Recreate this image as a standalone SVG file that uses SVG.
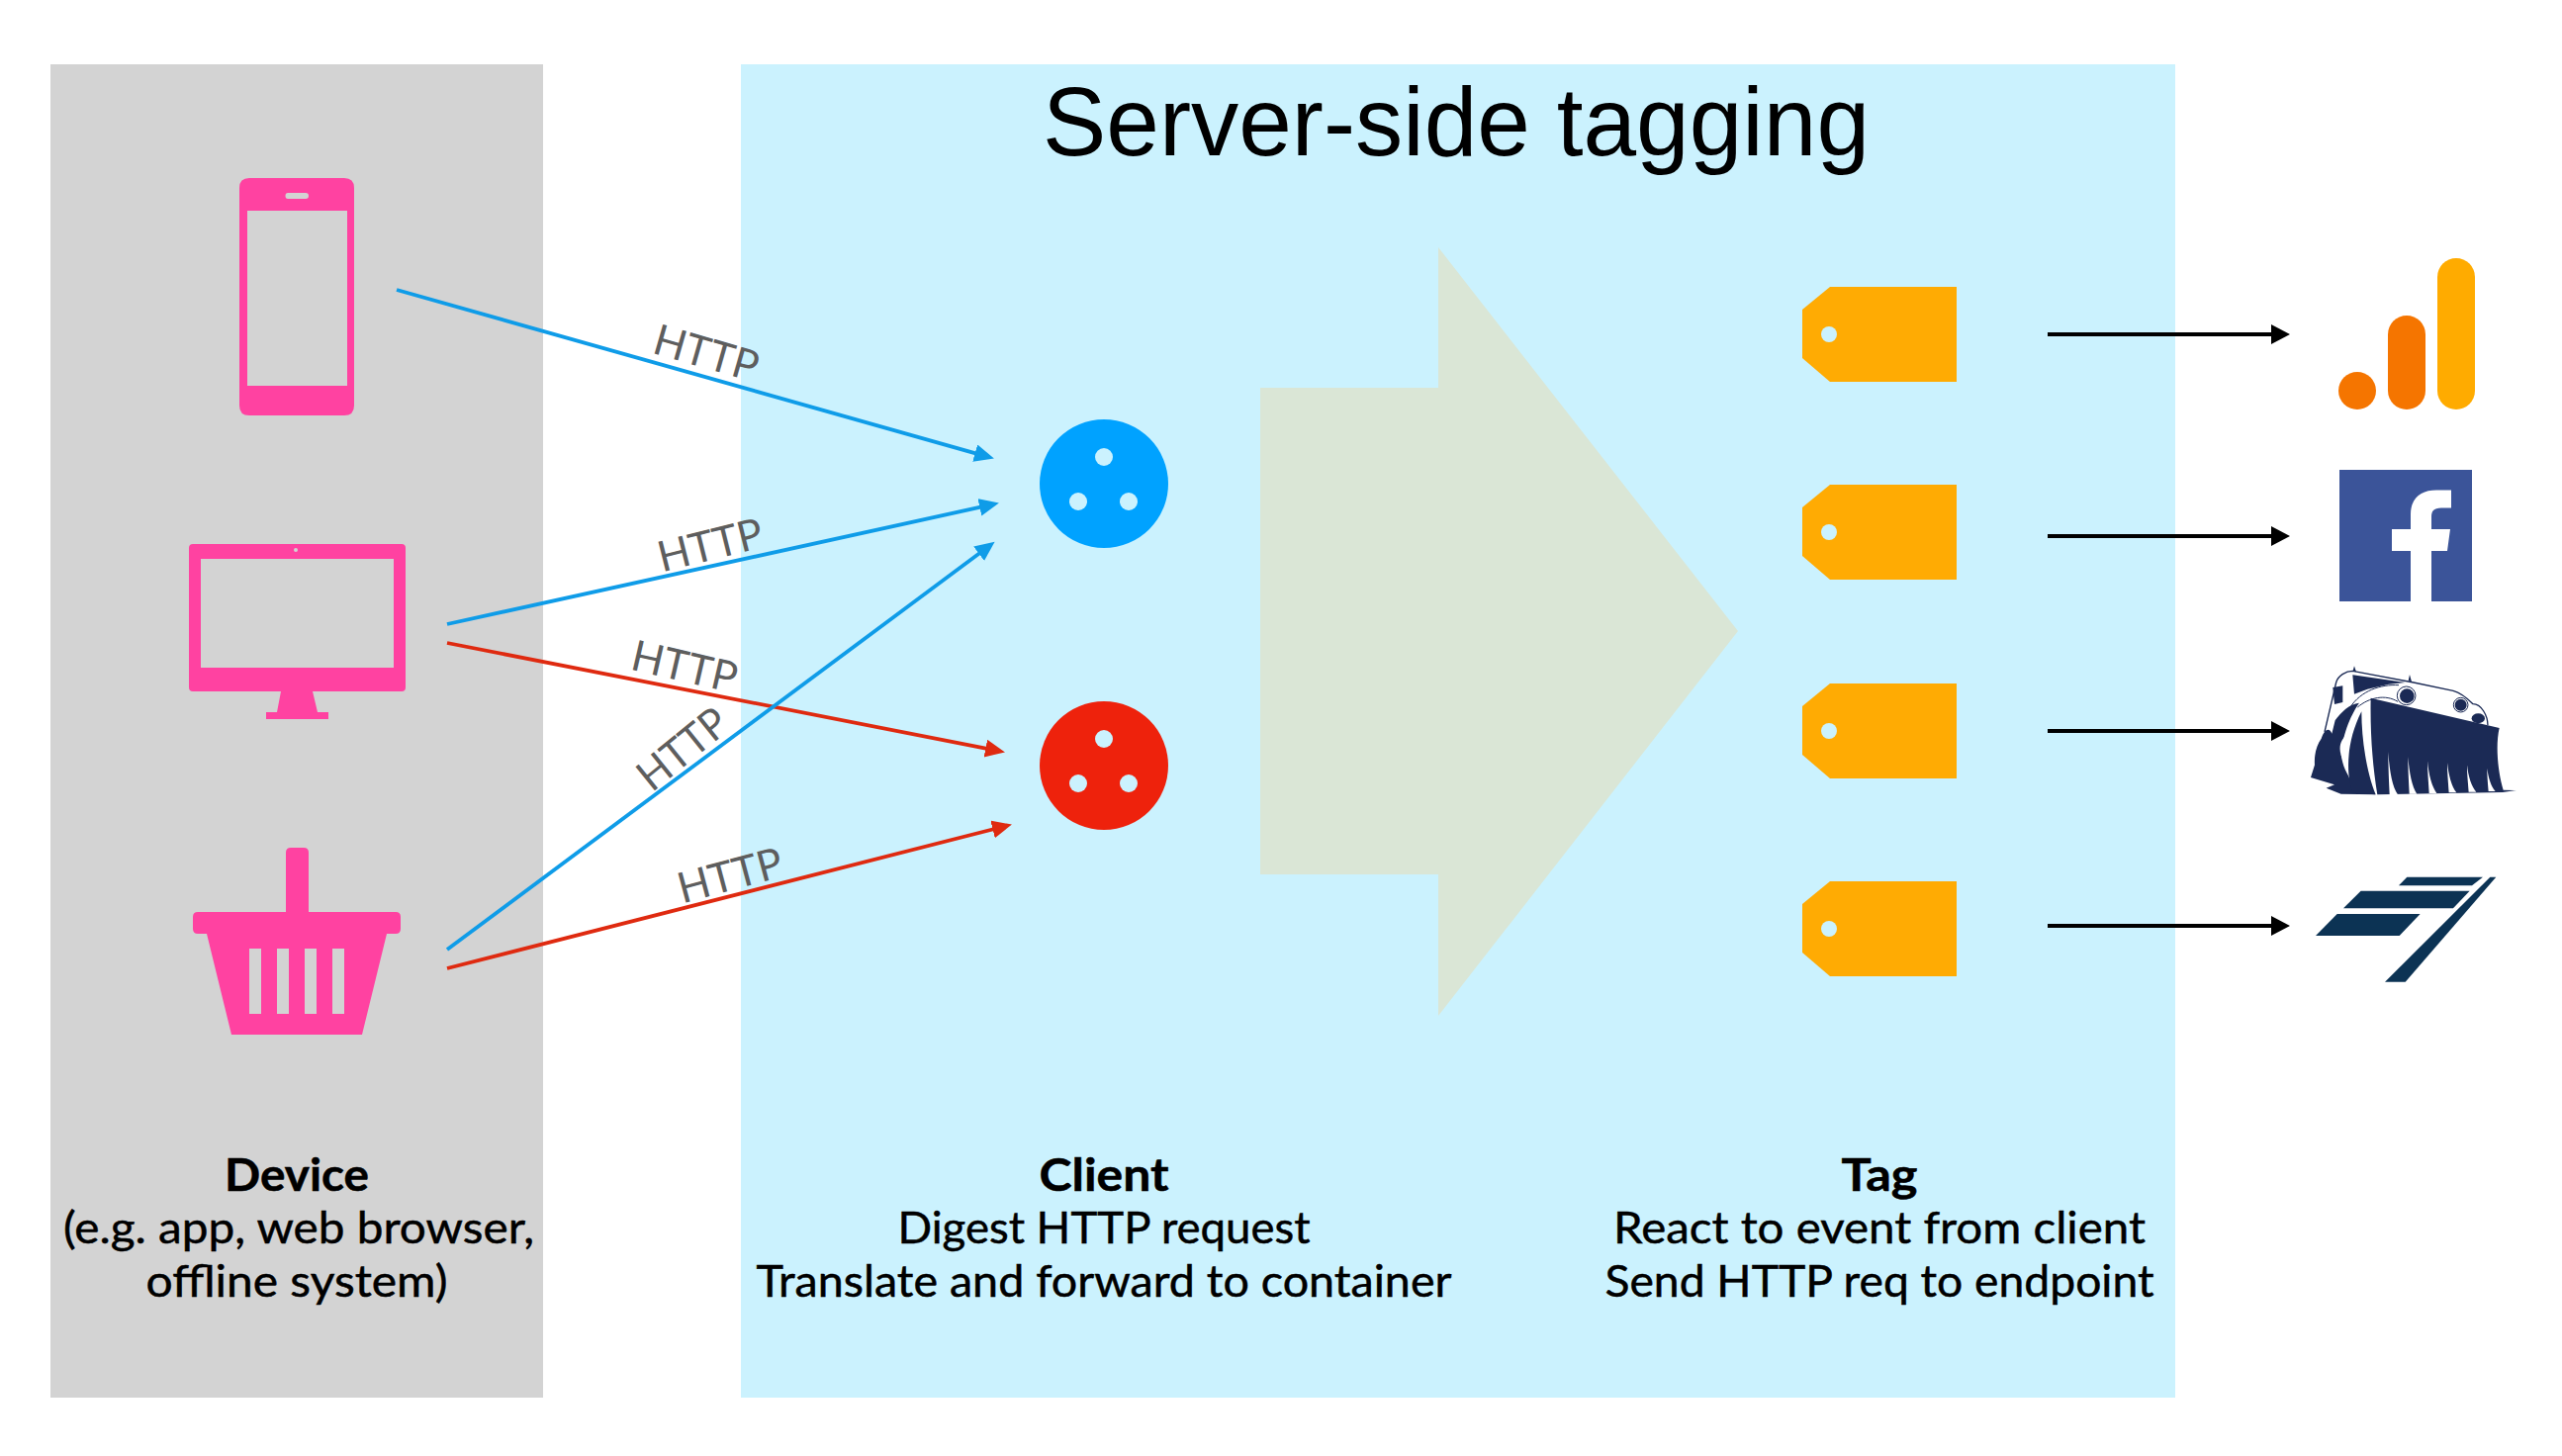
<svg xmlns="http://www.w3.org/2000/svg" width="2590" height="1472" viewBox="0 0 2590 1472">
<style>
.lab{font-family:"Lato","Noto Sans",sans-serif;font-size:45px;fill:#000;stroke:#000;stroke-width:.5px;text-anchor:middle}
.b{font-weight:700}
.http{font-family:"Lato","Noto Sans",sans-serif;font-size:43px;fill:#5E5E5E;text-anchor:middle}
.pink{fill:#FF42A1}
.tag{fill:#FFAB03}
.hole{fill:#CBF2FE}
.navy{fill:#1B2A55}
.sl{fill:#0C3354}
.cb{stroke:#0F9CE8;stroke-width:3.8;fill:none;marker-end:url(#ab)}
.cr{stroke:#DF2A10;stroke-width:3.8;fill:none;marker-end:url(#ar)}
.ck{stroke:#000;stroke-width:4;fill:none;marker-end:url(#ak)}
</style>
<defs>
<marker id="ab" markerUnits="userSpaceOnUse" markerWidth="22" markerHeight="20" refX="8" refY="9" orient="auto"><path d="M0 0L20 9L0 18Z" fill="#0F9CE8"/></marker>
<marker id="ar" markerUnits="userSpaceOnUse" markerWidth="22" markerHeight="20" refX="8" refY="9" orient="auto"><path d="M0 0L20 9L0 18Z" fill="#DF2A10"/></marker>
<marker id="ak" markerUnits="userSpaceOnUse" markerWidth="22" markerHeight="22" refX="9" refY="10" orient="auto"><path d="M0 0L19 10L0 20Z" fill="#000"/></marker>
<path id="tagshape" d="M-50 -48H78V48H-50L-78 24V-25Z"/>
</defs>
<rect width="2590" height="1472" fill="#fff"/>
<rect id="device-panel" x="51" y="65" width="498" height="1348" fill="#D3D3D3"/>
<rect id="server-panel" x="749" y="65" width="1450" height="1348" fill="#CBF2FE"/>
<text x="1472" y="157" font-family="'Liberation Sans',Arial,sans-serif" font-size="98" text-anchor="middle" textLength="836" lengthAdjust="spacingAndGlyphs">Server-side tagging</text>
<path id="flow-arrow" d="M1274 392H1454V250L1757 638L1454 1027V884H1274Z" fill="#DAE6D6"/>

<g id="phone" class="pink"><path fill-rule="evenodd" d="M252 180H348Q358 180 358 190V410Q358 420 348 420H252Q242 420 242 410V190Q242 180 252 180ZM250 213V390H351V213ZM291 195Q288.500 195 288.500 198Q288.500 201 291 201H309Q312 201 312 198Q312 195 309 195Z"/></g>
<g id="monitor" class="pink"><path fill-rule="evenodd" d="M195 550H406Q410 550 410 554V695Q410 699 406 699H195Q191 699 191 695V554Q191 550 195 550ZM203 565V675H398V565Z"/><path d="M284 699H316L321 720H332V727H269V720H280Z"/><circle cx="299" cy="556" r="2" fill="#D3D3D3"/></g>
<g id="basket" class="pink"><path d="M294 857H307Q312 857 312 862V922H289V862Q289 857 294 857Z"/><path fill-rule="evenodd" d="M200 922H400Q405 922 405 927V939Q405 944 400 944H391L366 1046H234L209 944H200Q195 944 195 939V927Q195 922 200 922ZM252 959V1025H264V959ZM280 959V1025H292V959ZM308 959V1025H320V959ZM336 959V1025H348V959Z"/></g>

<g id="client-blue"><circle cx="1116" cy="489" r="65" fill="#00A2FF"/><circle cx="1116" cy="462" r="9" class="hole"/><circle cx="1090" cy="507" r="9" class="hole"/><circle cx="1141" cy="507" r="9" class="hole"/></g>
<g id="client-red"><circle cx="1116" cy="774" r="65" fill="#EE220C"/><circle cx="1116" cy="747" r="9" class="hole"/><circle cx="1090" cy="792" r="9" class="hole"/><circle cx="1141" cy="792" r="9" class="hole"/></g>

<g id="tag-1"><use href="#tagshape" x="1900" y="338" class="tag"/><circle cx="1849" cy="338" r="8" class="hole"/></g>
<g id="tag-2"><use href="#tagshape" x="1900" y="538" class="tag"/><circle cx="1849" cy="538" r="8" class="hole"/></g>
<g id="tag-3"><use href="#tagshape" x="1900" y="739" class="tag"/><circle cx="1849" cy="739" r="8" class="hole"/></g>
<g id="tag-4"><use href="#tagshape" x="1900" y="939" class="tag"/><circle cx="1849" cy="939" r="8" class="hole"/></g>

<g id="connectors">
<path class="cb" d="M401 293L993.400 460.300"/>
<path class="cb" d="M452 631L998.200 511.100"/>
<path class="cr" d="M452 650L1004.200 758.100"/>
<path class="cb" d="M452 960L996 555"/>
<path class="cr" d="M452 979L1011.300 836.500"/>
<path class="ck" d="M2070 338H2305"/>
<path class="ck" d="M2070 542H2305"/>
<path class="ck" d="M2070 739H2305"/>
<path class="ck" d="M2070 936H2305"/>
</g>

<g id="http-labels">
<text class="http" transform="translate(714 357) rotate(16)" y="15" textLength="108" lengthAdjust="spacingAndGlyphs">HTTP</text>
<text class="http" transform="translate(718 551) rotate(-14)" y="15" textLength="108" lengthAdjust="spacingAndGlyphs">HTTP</text>
<text class="http" transform="translate(692 674) rotate(13)" y="15" textLength="108" lengthAdjust="spacingAndGlyphs">HTTP</text>
<text class="http" transform="translate(690 757) rotate(-39)" y="15" textLength="104" lengthAdjust="spacingAndGlyphs">HTTP</text>
<text class="http" transform="translate(738 885) rotate(-15)" y="15" textLength="108" lengthAdjust="spacingAndGlyphs">HTTP</text>
</g>

<g id="analytics">
<rect x="2464" y="261" width="38" height="153" rx="19" fill="#FFAB00"/>
<rect x="2414" y="319" width="38" height="95" rx="19" fill="#F57500"/>
<circle cx="2383" cy="395" r="19" fill="#F57500"/>
</g>
<g id="facebook">
<rect x="2365" y="475" width="134" height="133" fill="#3B5499"/>
<path fill="#fff" d="M2437 608V557H2418V535H2437V520C2437 503 2448 495.500 2463 495.500H2478V513.500H2468C2460 513.500 2458 517 2458 523V535H2477L2474 557H2458V608Z"/>
</g>
<g id="plow" transform="translate(2300 640) scale(.3333)">
<path d="M150 300L185 150C190 130 215 115 235 115L420 150L540 175C565 182 590 205 600 215C625 215 645 250 645 280" fill="#fff" stroke="#1B2A55" stroke-width="4"/>
<path class="navy" d="M235 127L395 150L345 155L280 170L240 185Z"/>
<path class="navy" d="M175 165L205 160V210L180 216Z"/>
<path class="navy" d="M236 115L240 100L246 118ZM404 145L408 126L414 148Z"/>
<path d="M228 225C260 175 320 155 375 158M250 225C285 195 335 185 372 208" fill="none" stroke="#1B2A55" stroke-width="3"/>
<circle cx="398" cy="190" r="28" fill="#fff" stroke="#1B2A55" stroke-width="3"/><circle cx="400" cy="191" r="22" class="navy"/>
<circle cx="563" cy="218" r="22" fill="#fff" stroke="#1B2A55" stroke-width="3"/><circle cx="563" cy="218" r="18" class="navy"/>
<ellipse cx="616" cy="259" rx="20" ry="15" class="navy"/>
<path class="navy" d="M108 438L120 400C118 370 125 340 140 320C150 290 165 285 172 305L182 265C200 240 225 215 255 212C235 240 205 300 200 370L225 440L260 470L305 490L200 488L155 470L180 460Z"/>
<path fill="#fff" d="M200 370C190 340 205 320 215 310C205 350 210 390 240 455C215 430 205 400 200 370Z"/>
<path class="navy" d="M262 238C262 330 280 430 305 490L235 485C218 440 210 340 262 238Z"/>
<path class="navy" d="M290 197L680 288C668 340 675 420 692 476L732 477L690 483L310 490C295 400 288 300 290 197Z"/>
<path fill="#fff" d="M343 360C347 420 355 465 372 490H347C345 450 343 400 343 360ZM403 375C407 425 415 465 430 488H407C405 450 403 410 403 375ZM462 388C466 430 475 465 490 486H467C465 450 462 420 462 388ZM522 393C526 430 535 465 550 484H527C525 450 522 425 522 393ZM582 400C586 435 595 465 610 482H587C585 450 582 430 582 400ZM643 410C647 440 655 465 668 480H647C645 450 643 435 643 410Z"/>
</g>
<g id="slant-logo" class="sl" transform="translate(2300 640) scale(.3333)">
<path d="M400 740H630L597 766H375Z"/>
<path d="M260 782H590L540 835H207Z"/>
<path d="M188 852H440L377 918H123Z"/>
<path d="M652 740H670L395 1058H333Z"/>
</g>

<g id="device-label">
<text class="lab b" x="300" y="1204" textLength="146" lengthAdjust="spacingAndGlyphs">Device</text>
<text class="lab" x="302" y="1257" textLength="476" lengthAdjust="spacingAndGlyphs">(e.g. app, web browser,</text>
<text class="lab" x="300" y="1311" textLength="305" lengthAdjust="spacingAndGlyphs">offline system)</text>
</g>
<g id="client-label">
<text class="lab b" x="1116" y="1204" textLength="131" lengthAdjust="spacingAndGlyphs">Client</text>
<text class="lab" x="1116" y="1257" textLength="417" lengthAdjust="spacingAndGlyphs">Digest HTTP request</text>
<text class="lab" x="1116" y="1311" textLength="703" lengthAdjust="spacingAndGlyphs">Translate and forward to container</text>
</g>
<g id="tag-label">
<text class="lab b" x="1900" y="1204" textLength="77" lengthAdjust="spacingAndGlyphs">Tag</text>
<text class="lab" x="1900" y="1257" textLength="538" lengthAdjust="spacingAndGlyphs">React to event from client</text>
<text class="lab" x="1900" y="1311" textLength="555" lengthAdjust="spacingAndGlyphs">Send HTTP req to endpoint</text>
</g>
</svg>
